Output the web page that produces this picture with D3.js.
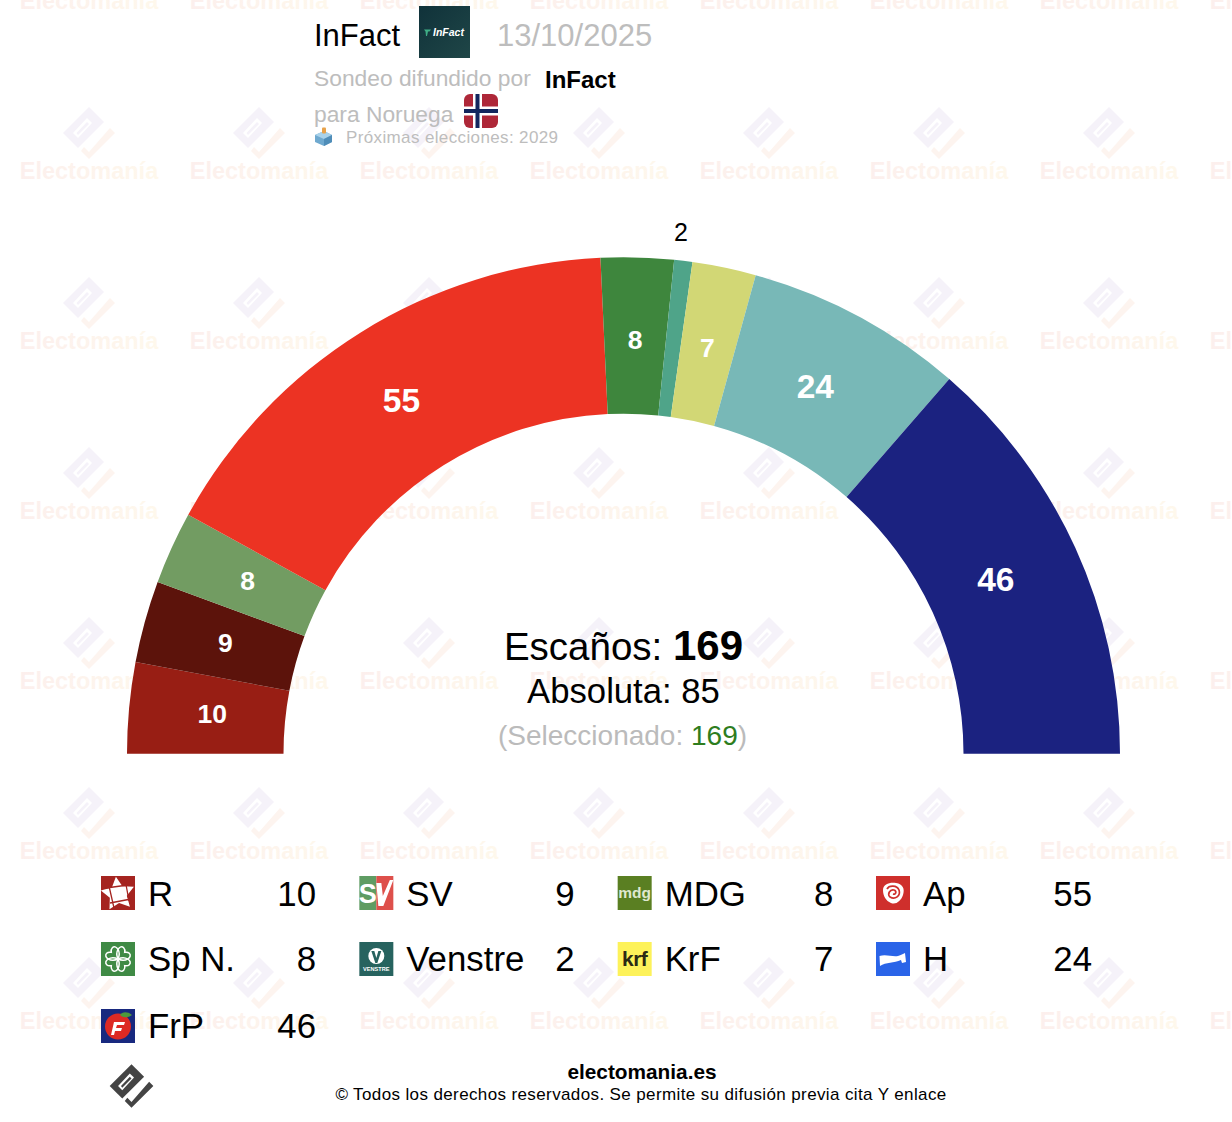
<!DOCTYPE html>
<html><head><meta charset="utf-8">
<script src="https://cdn.jsdelivr.net/npm/d3@7/dist/d3.min.js"></script>
<style>html,body{margin:0;padding:0;background:#fff}svg{display:block}text{font-family:"Liberation Sans",Arial,sans-serif}</style>
</head><body><svg id="c" width="1232" height="1122"></svg>
<script>
const parties=["R","SV","Sp N.","Ap","MDG","Venstre","KrF","H","FrP"];
const seats=[10,9,8,55,8,2,7,24,46];
const colors=["#981e14","#5c130b","#729c62","#ec3323","#3e863d","#4fa489","#d2d775","#78b8b7","#1b2280"];
const legendOrder=["R","SV","MDG","Ap","Sp N.","Venstre","KrF","H","FrP"];
const wmCols=d3.range(0,8), wmRows=d3.range(0,7);

const svg=d3.select("#c");
const defs=svg.append("defs");
function grad(id,a,b){const g=defs.append("linearGradient").attr("id",id).attr("x1","0").attr("x2","1").attr("y1","0").attr("y2","0");
 g.append("stop").attr("offset","0").attr("stop-color",a);g.append("stop").attr("offset","1").attr("stop-color",b);}
grad("wmText","#fcefed","#fef8ec");
const ig=defs.append("linearGradient").attr("id","inf").attr("x1","0").attr("y1","0").attr("x2","1").attr("y2","1");
ig.append("stop").attr("offset","0").attr("stop-color","#10323a");ig.append("stop").attr("offset","1").attr("stop-color","#1f4647");

function mark(g,c1,c2,hole,inner){
 g.append("path").attr("d","M0,-26L15,-11L-11,15L-26,0Z").attr("fill",c1);
 g.append("path").attr("d","M-16,0L-2,-15L3,-10L-11,5Z").attr("fill",hole);
 if(inner)g.append("path").attr("d","M-12.5,0L-2,-11L0,-9L-11,2Z").attr("fill",inner);
 g.append("path").attr("d","M21,-5L26,0L0,26L-8,18L-5,14L0,19Z").attr("fill",c2);
}
const wm=svg.append("g");
wmCols.forEach(i=>wmRows.forEach(j=>{
 const x=89+170*i,y=-37+170*j;
 const g=wm.append("g").attr("transform",`translate(${x},${y})`);
 mark(g,"#f5f2f9","#fdf4ef","#ffffff","#f5f2f9");
 g.append("text").attr("x",0).attr("y",46).attr("text-anchor","middle").attr("font-size",23.5).attr("font-weight",700).attr("fill","url(#wmText)").text("Electomanía");
}));

const cx=623.5,cy=753.7,rO=496.5,rI=340,rL=413;
const pie=d3.pie().value(d=>d).sort(null).startAngle(-Math.PI/2).endAngle(Math.PI/2);
const arc=d3.arc().innerRadius(rI).outerRadius(rO);
const labelArc=d3.arc().innerRadius(rL).outerRadius(rL);
const arcs=pie(seats);
const chart=svg.append("g").attr("transform",`translate(${cx},${cy})`);
chart.selectAll("path").data(arcs).join("path").attr("d",arc).attr("fill",(d,i)=>colors[i]);
chart.selectAll("text").data(arcs).join("text")
 .attr("text-anchor","middle").attr("dy","0.36em")
 .attr("transform",d=>{
   if(d.data<4){const a=(d.startAngle+d.endAngle)/2-0.011;return `translate(${525*Math.sin(a)},${-525*Math.cos(a)})`;}
   const c=labelArc.centroid(d);
   return d.data>=20?`translate(${c[0]-3.5},${c[1]-3.5})`:`translate(${c[0]},${c[1]-1.5})`;})
 .attr("font-size",d=>d.data<4?25:(d.data<20?26.5:33.5))
 .attr("font-weight",d=>d.data<4?400:700)
 .attr("fill",d=>d.data<4?"#000":"#fff")
 .text(d=>d.data);

const total=d3.sum(seats),majority=Math.floor(total/2)+1;
const t1=svg.append("text").attr("x",623.5).attr("y",660).attr("text-anchor","middle").attr("font-size",38.5);
t1.append("tspan").text("Escaños: ");
t1.append("tspan").attr("font-weight",700).attr("font-size",42).text(total);
svg.append("text").attr("x",623.5).attr("y",703).attr("text-anchor","middle").attr("font-size",34.7).text("Absoluta: "+majority);
const t3=svg.append("text").attr("x",622.5).attr("y",745).attr("text-anchor","middle").attr("font-size",28).attr("fill","#bbb");
t3.append("tspan").text("(Seleccionado: ");
t3.append("tspan").attr("fill","#2e7d1e").text(total);
t3.append("tspan").text(")");

const gray="#bdbdbd";
svg.append("text").attr("x",314).attr("y",46).attr("font-size",31).text("InFact");
svg.append("rect").attr("x",419).attr("y",6).attr("width",51).attr("height",52).attr("fill","url(#inf)");
svg.append("path").attr("d","M424,29.5h7l-1.5,2h-1.5l-1,4.5h-1l-.5,-4.5z").attr("fill","#3fae86");
svg.append("text").attr("x",433).attr("y",36).attr("font-size",10.5).attr("font-weight",700).attr("font-style","italic").attr("fill","#fff").text("InFact");
svg.append("text").attr("x",497).attr("y",46).attr("font-size",31).attr("fill",gray).text("13/10/2025");
svg.append("text").attr("x",314).attr("y",86).attr("font-size",22.8).attr("fill",gray).text("Sondeo difundido por");
svg.append("text").attr("x",545).attr("y",88).attr("font-size",24).attr("font-weight",700).text("InFact");
svg.append("text").attr("x",314).attr("y",121.5).attr("font-size",22.8).attr("fill",gray).text("para Noruega");
const fclip=defs.append("clipPath").attr("id","fl");fclip.append("rect").attr("x",464).attr("y",94).attr("width",34).attr("height",34).attr("rx",6);
const fl=svg.append("g").attr("clip-path","url(#fl)");
fl.append("rect").attr("x",464).attr("y",94).attr("width",34).attr("height",34).attr("fill","#ae2738");
fl.append("rect").attr("x",473).attr("y",94).attr("width",9).attr("height",34).attr("fill","#fff");
fl.append("rect").attr("x",464).attr("y",106.5).attr("width",34).attr("height",9).attr("fill","#fff");
fl.append("rect").attr("x",475.5).attr("y",94).attr("width",4).attr("height",34).attr("fill","#13265e");
fl.append("rect").attr("x",464).attr("y",109).attr("width",34).attr("height",4).attr("fill","#13265e");
svg.append("path").attr("d","M324,131L332,135V142L324,146L315,142V135Z").attr("fill","#6fa9cf");
svg.append("path").attr("d","M324,131L332,135L324,139L315,135Z").attr("fill","#a9d2ea");
svg.append("path").attr("d","M324,139L332,135V142L324,146Z").attr("fill","#4f8db8");
svg.append("rect").attr("x",322).attr("y",127.5).attr("width",4).attr("height",6).attr("rx",1).attr("fill","#e8a24a");
svg.append("text").attr("x",346).attr("y",143).attr("font-size",17).attr("letter-spacing",0.37).attr("fill",gray).text("Próximas elecciones: 2029");

const S=34;
function sq(g,c){g.append("rect").attr("width",S).attr("height",S).attr("fill",c);}
function tx(g,x,y,s,size,fill,w,st){return g.append("text").attr("x",x).attr("y",y).attr("text-anchor","middle").attr("font-size",size).attr("font-weight",w||400).attr("font-style",st||"normal").attr("fill",fill).text(s);}
const icons={
 "R":g=>{sq(g,"#a52420");
  const star=d3.range(10).map(k=>{const a=-Math.PI/2-0.12+k*Math.PI/5,r=k%2?9:17.5;return [17+r*Math.cos(a),18+r*Math.sin(a)];});
  g.append("path").attr("d",d3.line()(star)+"Z").attr("fill","#fff");
  g.append("path").attr("d","M5,12L27,9M24,3L28,25M30,23L9,27M13,32L8,10").attr("fill","none").attr("stroke","#a52420").attr("stroke-width",1.3);},
 "SV":g=>{g.append("rect").attr("width",17).attr("height",S).attr("fill","#5f9c63");
  g.append("rect").attr("x",17).attr("width",17).attr("height",S).attr("fill","#de504b");
  tx(g,8.5,27,"S",27,"#fff",700);
  g.append("path").attr("d","M17,7h5l1.5,13l7,-16h3.5l-10,26h-5z").attr("fill","#fff");},
 "MDG":g=>{sq(g,"#5a7f22");tx(g,17,22,"mdg",15.5,"#dfe8cf",700);},
 "Ap":g=>{sq(g,"#cf2f2c");
  g.append("path").attr("d","M7,14C7,8 14,6 20,7C27,8 29,13 27,19C25,25 20,29 15,27C10,25 7,20 7,14Z").attr("fill","#fff");
  g.append("path").attr("d","M11,13C13,9 21,9 23,14C25,20 19,24 14,21C11,18 14,13 18,14C21,15 20,19 17,18").attr("fill","none").attr("stroke","#cf2f2c").attr("stroke-width",1.7);},
 "Sp N.":g=>{sq(g,"#3f8a45");
  const leaf="M0,0C-8,-3 -9,-12 -4,-12C-2,-12 -1,-11 0,-9.5C1,-11 2,-12 4,-12C9,-12 8,-3 0,0Z";
  [45,135,225,315].forEach(a=>g.append("path").attr("d",leaf).attr("transform",`translate(17,17) rotate(${a})`).attr("fill","none").attr("stroke","#fff").attr("stroke-width",1.5));},
 "Venstre":g=>{sq(g,"#27635f");
  g.append("circle").attr("cx",17).attr("cy",14).attr("r",8).attr("fill","#fff");
  g.append("path").attr("d","M12,9h3l2,7l2,-7h3l-4,12h-2z").attr("fill","#27635f");
  tx(g,17,29,"VENSTRE",5.6,"#fff",700);},
 "KrF":g=>{sq(g,"#fdf25a");tx(g,17,24,"krf",21,"#2b2a14",700).attr("letter-spacing",-0.5);},
 "H":g=>{sq(g,"#2a64e8");
  g.append("path").attr("d","M3.5,14C10,12 16,15 22,14C25,13 27,12 29,11L30,20L26,21L25,18C18,21 10,20 4,24Z").attr("fill","#fff");},
 "FrP":g=>{sq(g,"#18297f");
  g.append("circle").attr("cx",17).attr("cy",17.5).attr("r",13).attr("fill","#dd2a24");
  g.append("path").attr("d","M19,6C21,3 26,2 31,6C27,9 22,9 19,6Z").attr("fill","#4e9a3b");
  g.append("path").attr("d","M13,13h11l-1,3h-7l-1,3h6l-1,3h-6l-1,4h-3z").attr("fill","#fff");}
};
const colX=d3.scalePoint().domain(d3.range(4)).range([101,876]);
const valX=d3.scalePoint().domain(d3.range(4)).range([316,1092]);
const rowY=d3.scalePoint().domain(d3.range(3)).range([876,1009]);
legendOrder.forEach((p,i)=>{
 const c=i%4,r=Math.floor(i/4),y=rowY(r);
 const g=svg.append("g").attr("transform",`translate(${colX(c)},${Math.floor(y)})`);
 icons[p](g);
 const base=[906,971,1038][r];
 svg.append("text").attr("x",colX(c)+47).attr("y",base).attr("font-size",34.8).text(p);
 svg.append("text").attr("x",valX(c)).attr("y",base).attr("text-anchor","end").attr("font-size",34.8).text(seats[parties.indexOf(p)]);
});

const fm=svg.append("g").attr("transform","translate(131.5,1086) scale(0.84)");
mark(fm,"#444","#444","#fff","#444");
svg.append("text").attr("x",642).attr("y",1079).attr("text-anchor","middle").attr("font-size",20.8).attr("font-weight",700).text("electomania.es");
svg.append("text").attr("x",641).attr("y",1100).attr("text-anchor","middle").attr("font-size",17).attr("letter-spacing",0.38).text("© Todos los derechos reservados. Se permite su difusión previa cita Y enlace");
</script></body></html>
